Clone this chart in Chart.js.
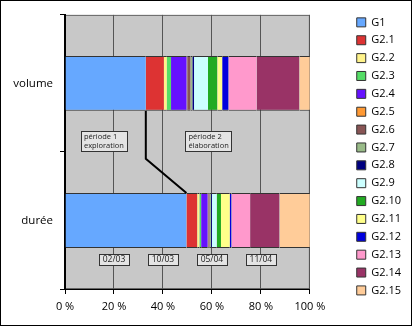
<!DOCTYPE html>
<html>
<head>
<meta charset="utf-8">
<script src="https://cdn.jsdelivr.net/npm/chart.js@4"></script>
<style>
  html, body { margin: 0; padding: 0; background: #fff; }
  #frame { width: 412px; height: 326px; box-sizing: border-box; border: 1px solid #000; background: #fff; }
  canvas { display: block; }
</style>
</head>
<body>
<div id="frame"><canvas id="chart" width="410" height="324"></canvas></div>
<script>
// --- data (share of each group, %) ---
const categories = ['volume', 'durée'];
const groups = ['G1', 'G2.1', 'G2.2', 'G2.3', 'G2.4', 'G2.5', 'G2.6', 'G2.7',
  'G2.8', 'G2.9', 'G2.10', 'G2.11', 'G2.12', 'G2.13', 'G2.14', 'G2.15'];
const volumeShare = [33.0, 7.4, 1.2, 1.7, 6.4, 0.2, 1.4, 0.7, 0.7, 5.7, 3.8, 2.0, 2.6, 11.5, 17.4, 4.3];
const dureeShare = [49.6, 4.4, 0.9, 0.7, 2.7, 0.2, 0.6, 0.5, 0.4, 2.0, 1.7, 3.6, 0.7, 7.6, 12.0, 12.4];
const groupColors = ['#66A8FF', '#DD3333', '#FFF38A', '#55DD66', '#6611FF', '#FF9933',
  '#885555', '#99BB88', '#000080', '#CCFFFF', '#22AA22', '#FFFF8A', '#0000DD',
  '#FF99CC', '#993366', '#FFCC99'];
const xTicks = [0, 20, 40, 60, 80, 100];
const dateLabels = ['02/03', '10/03', '05/04', '11/04'];
const dateTicks = [20, 40, 60, 80];
const periodLabels = [['période 1', 'exploration'], ['période 2', 'élaboration']];

Chart.defaults.font.family = '"Open Sans", sans-serif';
Chart.defaults.color = '#000';

// gray plot area with thin frame
const plotBackground = {
    id: 'plotBackground',
    beforeDraw(chart) {
        const { ctx, chartArea: a } = chart;
        ctx.save();
        ctx.fillStyle = '#C8C8C8';
        ctx.fillRect(a.left, a.top, a.right - a.left, a.bottom - a.top);
        ctx.strokeStyle = '#666';
        ctx.lineWidth = 1;
        ctx.strokeRect(a.left + 0.5, a.top + 0.5, a.right - a.left - 1, a.bottom - a.top - 1);
        ctx.restore();
    }
};

function drawBox(ctx, lines, left, top, width, lineH, font, centered) {
    ctx.font = font;
    const h = lines.length * lineH + 2;
    ctx.fillStyle = '#E4E4E4';
    ctx.fillRect(left, top, width, h);
    ctx.strokeStyle = '#333';
    ctx.lineWidth = 1;
    ctx.strokeRect(Math.round(left) + 0.5, Math.round(top) + 0.5, Math.round(width), Math.round(h));
    ctx.fillStyle = '#222';
    ctx.textBaseline = 'middle';
    ctx.textAlign = centered ? 'center' : 'left';
    lines.forEach((t, i) => {
        const tx = centered ? left + width / 2 : left + 3;
        ctx.fillText(t, tx, top + 1 + lineH * (i + 0.5));
    });
}

// series line between the G1 ends + text boxes
const annotations = {
    id: 'annotations',
    afterDatasetsDraw(chart) {
        const { ctx, scales: { x, y } } = chart;
        const g1 = chart.getDatasetMeta(0).data;
        const vol = g1[0], dur = g1[1];
        ctx.save();
        ctx.strokeStyle = '#000';
        ctx.lineWidth = 2;
        ctx.beginPath();
        ctx.moveTo(vol.x, vol.y + vol.height / 2);
        ctx.lineTo(vol.x, y.getPixelForValue(0.55));
        ctx.lineTo(dur.x, dur.y - dur.height / 2);
        ctx.stroke();

        const pFont = '7.5px "Open Sans"';
        const periodLeft = [6.5, 49.2];
        periodLabels.forEach((lines, i) => {
            ctx.font = pFont;
            const w = Math.max(...lines.map(t => ctx.measureText(t).width)) + 6;
            const yc = y.getPixelForValue(0.42);
            drawBox(ctx, lines, x.getPixelForValue(periodLeft[i]), yc - 10, w, 9, pFont, false);
        });

        dateLabels.forEach((t, i) => {
            const xc = x.getPixelForValue(dateTicks[i]);
            const yc = y.getPixelForValue(1.29);
            drawBox(ctx, [t], xc - 15, yc - 6, 30, 9, '8.5px "Open Sans"', true);
        });
        ctx.restore();
    }
};

new Chart(document.getElementById('chart'), {
    type: 'bar',
    data: {
        labels: categories,
        datasets: groups.map((g, i) => ({
            label: g,
            data: [volumeShare[i], dureeShare[i]],
            backgroundColor: groupColors[i],
            borderColor: '#333',
            borderWidth: { top: 1, bottom: 1, left: 0, right: 0 },
            borderSkipped: false,
            barPercentage: 1,
            categoryPercentage: 0.4
        }))
    },
    options: {
        indexAxis: 'y',
        responsive: false,
        animation: false,
        layout: { padding: { top: 9, right: 0, bottom: 0, left: 0 } },
        scales: {
            x: {
                stacked: true,
                min: 0,
                max: 100,
                afterBuildTicks: s => { s.ticks = xTicks.map(v => ({ value: v })); },
                ticks: { callback: v => v + ' %', font: { size: 11 }, padding: 6, maxRotation: 0 },
                grid: { color: '#555', tickColor: '#000', tickLength: 5, lineWidth: 1 },
                border: { color: '#000', width: 1 },
                afterFit: s => { s.height = 36; }
            },
            y: {
                stacked: true,
                ticks: { font: { size: 11.5 }, padding: 7 },
                grid: { drawOnChartArea: false, color: '#000', tickLength: 5, offset: true },
                border: { color: '#000', width: 2 },
                afterFit: s => { s.width = 64; }
            },
            gap: {
                type: 'category',
                position: 'right',
                axis: 'y',
                grid: { display: false },
                border: { display: false },
                ticks: { display: false },
                afterFit: s => { s.width = 40; }
            }
        },
        plugins: {
            legend: {
                position: 'right',
                align: 'start',
                labels: {
                    boxWidth: 9,
                    boxHeight: 9,
                    padding: 6.87,
                    font: { size: 11 },
                    generateLabels(chart) {
                        const items = Chart.defaults.plugins.legend.labels.generateLabels(chart);
                        items.forEach(it => { it.lineWidth = 1; it.strokeStyle = '#333'; });
                        return items;
                    }
                }
            },
            tooltip: { enabled: false }
        }
    },
    plugins: [plotBackground, annotations]
});
</script>
</body>
</html>
